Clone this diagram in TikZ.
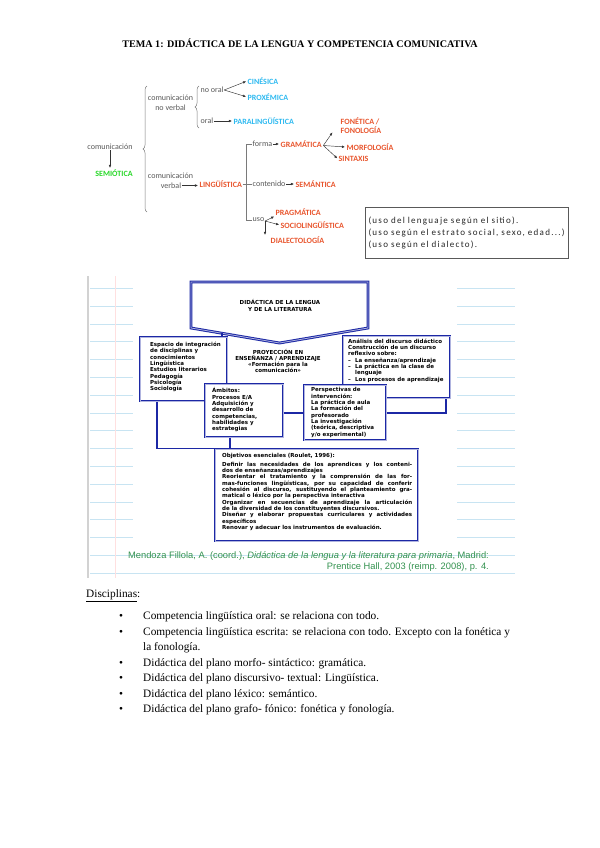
\documentclass[tikz,border=0pt]{standalone}
\usepackage{fontspec}
\setmainfont{Liberation Serif}
\newfontfamily\calfont{Carlito}
\newfontfamily\calspaced[LetterSpace=14]{Carlito}
\newfontfamily\figfont{DejaVu Sans}
\newfontfamily\citefont{Liberation Sans}
\usetikzlibrary{arrows.meta,positioning,calc,fit,decorations.pathreplacing}
\newdimen\pu \pu=0.3506mm
\definecolor{txtgray}{RGB}{89,89,89}
\definecolor{capblue}{RGB}{45,185,240}
\definecolor{capred}{RGB}{232,85,45}
\definecolor{capgreen}{RGB}{40,215,40}
\definecolor{figblue}{RGB}{28,40,165}
\definecolor{citegreen}{RGB}{50,145,78}
\definecolor{noteline}{RGB}{200,228,242}
\newcommand\jl[1]{\makebox[190\pu][s]{#1}}
\tikzset{
  lbl/.style={font=\calfont\fontsize{8}{10}\selectfont, text=txtgray, inner sep=0.5pt, align=center},
  capt/.style={font=\calfont\bfseries\fontsize{8}{9}\selectfont, inner sep=0.5pt, align=left},
  capb/.style={capt, text=capblue},
  capr/.style={capt, text=capred},
  capg/.style={capt, text=capgreen},
  tarr/.style={-{Latex[length=3pt,width=2.6pt]}, black!80, line width=0.45pt, shorten >=1pt},
  tline/.style={txtgray!80, line width=0.5pt},
  tbrace/.style={decorate, decoration={brace, amplitude=4\pu}, txtgray!80, line width=0.5pt},
  fbox/.style={draw=figblue, line width=1pt, double=figblue!35!white, double distance=0.8pt, fill=white, inner sep=0pt},
  fline/.style={figblue, line width=1.8pt},
  ftxt/.style={font=\figfont\bfseries\fontsize{5.5}{6.3}\selectfont, align=left, inner sep=0pt, anchor=north west},
  item/.style={anchor=base west, inner sep=0pt, font=\fontsize{11.3}{13}\selectfont},
  bul/.style={anchor=base, inner sep=0pt, font=\fontsize{11.3}{13}\selectfont},
}
\begin{document}
\begin{tikzpicture}[x=0.3506mm, y=-0.3506mm]
\useasboundingbox (0,0) rectangle (599,848);

% title
\node[font=\bfseries\fontsize{10.1}{11}\selectfont] (title) at (300,43)
  {TEMA 1: DIDÁCTICA DE LA LENGUA Y COMPETENCIA COMUNICATIVA};

% communication tree
\node[lbl] (com) at (110,147) {comunicación};
\node[capg] (semio) at (114,173) {SEMIÓTICA};
\draw[tarr] (com.south) -- (com.south |- semio.north);
\draw[tbrace] (147,212) -- (147,86);

\node[lbl] (nover) at (170.5,103) {comunicación\\no verbal};
\draw[tbrace] (199,128) -- (199,86);
\node[lbl, anchor=west] (nooral) at (200,90) {no oral};
\node[lbl, anchor=west] (oral) at (200,121) {oral};
\node[capb, anchor=west] (cines) at (247,81) {CINÉSICA};
\node[capb, anchor=west] (proxe) at (247,97) {PROXÉMICA};
\node[capb, anchor=west] (paral) at (233,121) {PARALINGÜÍSTICA};
\draw[tarr] (nooral.east) -- (cines.west);
\draw[tarr] (nooral.east) -- (proxe.west);
\draw[tarr] (oral) -- (paral);

\node[lbl] (vtop) at (170.5,176) {comunicación};
\node[lbl] (verb) at (171,185.5) {verbal};
\node[capr, anchor=west] (ling) at (199,184) {LINGÜÍSTICA};
\draw[tarr] (verb) -- (verb -| ling.west);

\coordinate (bk) at (246,0);
\node[lbl, anchor=west] (forma) at (252,144) {forma};
\node[lbl, anchor=west] (cont) at (252,184) {contenido};
\node[lbl, anchor=west] (uso) at (252,220) {uso};
\draw[tline] (forma.west) -| (uso.west -| bk) -- (uso.west);
\draw[tline] (ling) -- (cont);

\node[capr, anchor=west] (gram) at (280,144) {GRAMÁTICA};
\draw[tarr] (forma) -- (gram);
\node[capr, anchor=west] (fono) at (340,126) {FONÉTICA /\\FONOLOGÍA};
\node[capr, anchor=west] (morfo) at (346,147) {MORFOLOGÍA};
\node[capr, anchor=west] (sint) at (338,159) {SINTAXIS};
\coordinate (gf) at ($(gram.east)+(1,1.5)$);
\draw[tarr] (gf) -- ([xshift=-7\pu,yshift=3\pu]fono.south west);
\draw[tarr] (gf) -- (morfo.west);
\draw[tarr] (gf) -- (sint.west);

\node[capr, anchor=west] (seman) at (295,184) {SEMÁNTICA};
\draw[tarr] (cont) -- (seman);

\coordinate (uf) at (265,221);
\node[capr, anchor=west] (prag) at (275,212) {PRAGMÁTICA};
\node[capr, anchor=west] (socio) at (280,225) {SOCIOLINGÜÍSTICA};
\node[capr, anchor=west] (dialec) at (270,240) {DIALECTOLOGÍA};
\draw[tline] (uso) -- (uf);
\draw[tarr] (uf) -- (prag.south west);
\draw[tarr] (uf) -- (socio.west);
\draw[tarr] (uf) -- (uf |- dialec.north);

\node[draw=black!65, line width=0.6pt, text width=196\pu, inner xsep=3.5\pu, minimum height=51\pu,
  align=left, font=\calspaced\fontsize{9}{12}\selectfont, text=black!85] (usebox) at (466.5,232.5)
  {(uso del lenguaje según el sitio).\\(uso según el estrato social, sexo, edad...)\\(uso según el dialecto).};

% notebook page behind the figure
\foreach \k in {0,...,16}
  \draw[noteline, line width=0.6pt] (90,288.3+17.8*\k) -- (515,288.3+17.8*\k);
\draw[gray!35, line width=1pt] (88,276) -- (88,578);
\draw[red!12, line width=0.5pt] (115,276) -- (115,578);
\fill[white] (133,276) rectangle (457,541);

% figure
\draw[fbox] (191,282) -- (368,282) -- (368,328) -- (279.5,343) -- (191,328) -- cycle;
\node[ftxt, anchor=center, align=center] (didac) at (280,305.5) {DIDÁCTICA DE LA LENGUA\\Y DE LA LITERATURA};

\node[fbox, fit={(140,337) (227,401)}] (espacio) {};
\node[ftxt] (espaciot) at (150,342) {Espacio de integración\\de disciplinas y\\conocimientos\\Lingüística\\Estudios literarios\\Pedagogía\\Psicología\\Sociología};

\node[ftxt, anchor=center, align=center] (proy) at (278,361) {PROYECCIÓN EN\\ENSEÑANZA / APRENDIZAJE\\«Formación para la\\comunicación»};

\node[fbox, fit={(343,336) (450,398)}] (analisis) {};
\node[ftxt] (analisist) at (348,338.5) {Análisis del discurso didáctico\\Construcción de un discurso\\reflexivo sobre:\\\makebox[7\pu][l]{–}La enseñanza/aprendizaje\\\makebox[7\pu][l]{–}La práctica en la clase de\\\hspace*{7\pu}lenguaje\\\makebox[7\pu][l]{–}Los procesos de aprendizaje};

\node[fbox, fit={(205,384) (283,437)}] (ambitos) {};
\node[ftxt] (ambitost) at (212,387.5) {Ámbitos:\\Procesos E/A\\Adquisición y\\desarrollo de\\competencias,\\habilidades y\\estrategias};

\node[fbox, fit={(304,385) (386,440)}] (persp) {};
\node[ftxt] (perspt) at (311,387.5) {Perspectivas de\\intervención:\\La práctica de aula\\La formación del\\profesorado\\La investigación\\(teórica, descriptiva\\y/o experimental)};

\node[fbox, fit={(215,449) (418,541)}] (objet) {};
\node[ftxt] (objett) at (222,453.5) {Objetivos esenciales (Roulet, 1996):\\[2pt]
  \jl{Definir las necesidades de los aprendices y los conteni-}\\
  dos de enseñanzas/aprendizajes\\
  \jl{Reorientar el tratamiento y la comprensión de las for-}\\
  \jl{mas-funciones lingüísticas, por su capacidad de conferir}\\
  \jl{cohesión al discurso, sustituyendo el planteamiento gra-}\\
  matical o léxico por la perspectiva interactiva\\
  \jl{Organizar en secuencias de aprendizaje la articulación}\\
  de la diversidad de los constituyentes discursivos.\\
  \jl{Diseñar y elaborar propuestas curriculares y actividades}\\
  específicos\\
  Renovar y adecuar los instrumentos de evaluación.};

% connectors
\coordinate (pe) at (222,333);
\draw[fline] (pe) -- (espacio.north -| pe);
\coordinate (ex) at (157,0);
\draw[fline] (espacio.south -| ex) |- (objet.north west);
\coordinate (ax) at (230,0);
\draw[fline] (ambitos.south -| ax) -- (objet.north -| ax);
\coordinate (pk) at (0,413);
\draw[fline] (ambitos.east |- pk) -- (persp.west |- pk);
\coordinate (rx) at (446,0);
\draw[fline] (persp.east |- pk) -| (analisis.south -| rx);

\node[font=\citefont\fontsize{9.3}{11.5}\selectfont, text=citegreen, align=right, inner sep=0pt, anchor=north east] (cite) at (489,551)
  {Mendoza Fillola, A. (coord.), \textit{Didáctica de la lengua y la literatura para primaria}, Madrid:\\Prentice Hall, 2003 (reimp. 2008), p. 4.};

% list
\node[item] (disc) at (86,597) {\underline{Disciplinas}:};
\foreach \yy/\txt [count=\i] in {
  619.5/{Competencia lingüística oral: se relaciona con todo.},
  635/{Competencia lingüística escrita: se relaciona con todo. Excepto con la fonética y},
  666/{Didáctica del plano morfo- sintáctico: gramática.},
  681.5/{Didáctica del plano discursivo- textual: Lingüística.},
  697/{Didáctica del plano léxico: semántico.},
  712.5/{Didáctica del plano grafo- fónico: fonética y fonología.}} {
  \node[bul] (bul\i) at (121,\yy) {•};
  \node[item] (item\i) at (143,\yy) {\txt};
}
\node[item] (item2b) at (143,650.5) {la fonología.};

\end{tikzpicture}
\end{document}
